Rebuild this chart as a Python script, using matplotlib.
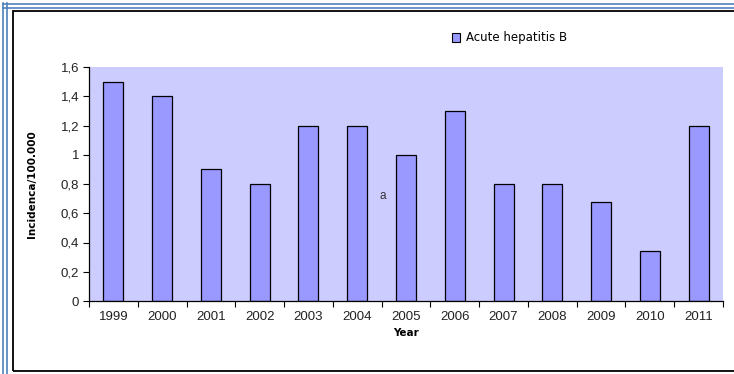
import matplotlib
matplotlib.use("Agg")
import matplotlib.pyplot as plt
from matplotlib.patches import Rectangle, Patch
from matplotlib.lines import Line2D
from matplotlib.ticker import FixedLocator, FuncFormatter
import numpy as np

years = ["1999", "2000", "2001", "2002", "2003", "2004", "2005",
         "2006", "2007", "2008", "2009", "2010", "2011"]
incidence = [1.5, 1.4, 0.9, 0.8, 1.2, 1.2, 1.0, 1.3, 0.8, 0.8, 0.68, 0.34, 1.2]
y_ticks = [0, 0.2, 0.4, 0.6, 0.8, 1.0, 1.2, 1.4, 1.6]

W, H = 734, 374
fig = plt.figure(figsize=(W / 100, H / 100), dpi=100)
fig.patch.set_facecolor("white")

# outer decorative frame
fig.add_artist(Rectangle((13 / W, 1 - 371 / H), (W - 12) / W, (371 - 11) / H,
                         transform=fig.transFigure, fill=False,
                         edgecolor="black", linewidth=1.3))
for x in (3, 7):
    fig.add_artist(Line2D([x / W, x / W], [0, 1 - 3 / H], transform=fig.transFigure,
                          color="#4f81bd", linewidth=1.2))
for y in (4, 8):
    fig.add_artist(Line2D([3 / W, 1], [1 - y / H, 1 - y / H], transform=fig.transFigure,
                          color="#4f81bd", linewidth=1.2))

ax = fig.add_axes([89 / W, 1 - 301 / H, (723 - 89) / W, (301 - 67) / H])
ax.set_facecolor("#ccccff")

x = np.arange(len(years))
bars = ax.bar(x, incidence, width=0.41, color="#9999ff", edgecolor="black",
              linewidth=0.9, label="Acute hepatitis B", zorder=2)

ax.set_xlim(-0.5, len(years) - 0.5)
ax.set_ylim(0, 1.6)
ax.set_yticks(y_ticks)
ax.yaxis.set_major_formatter(FuncFormatter(lambda v, p: f"{v:g}".replace(".", ",")))
ax.set_xticks(x)
ax.set_xticklabels(years)
ax.xaxis.set_minor_locator(FixedLocator(np.arange(-0.5, len(years), 1.0)))
ax.tick_params(axis="x", which="major", length=0, pad=7, labelsize=9.5)
ax.tick_params(axis="x", which="minor", length=4, width=0.8, direction="out")
ax.tick_params(axis="y", length=4, width=0.8, direction="out", labelsize=9.5, pad=3)
for lab in ax.get_xticklabels() + ax.get_yticklabels():
    lab.set_family("Liberation Sans")
    lab.set_color("#222222")

for s in ("top", "right"):
    ax.spines[s].set_visible(False)
for s in ("left", "bottom"):
    ax.spines[s].set_linewidth(0.9)

ax.set_xlabel("Year", fontsize=7.5, fontweight="bold", labelpad=4)
ax.set_ylabel("Incidenca/100.000", fontsize=7.5, fontweight="bold", labelpad=17)

ax.text(5.53, 0.72, "a", fontsize=8.5, family="Liberation Sans", color="#333333",
        ha="center", va="center")

fig.legend(handles=[Patch(facecolor="#9999ff", edgecolor="black", linewidth=0.8)],
           labels=["Acute hepatitis B"], loc="center left",
           bbox_to_anchor=(441 / W, 1 - 38 / H), frameon=False, fontsize=8.5,
           handlelength=0.7, handleheight=0.7, handletextpad=0.5)

fig.savefig("out.png", dpi=100)
